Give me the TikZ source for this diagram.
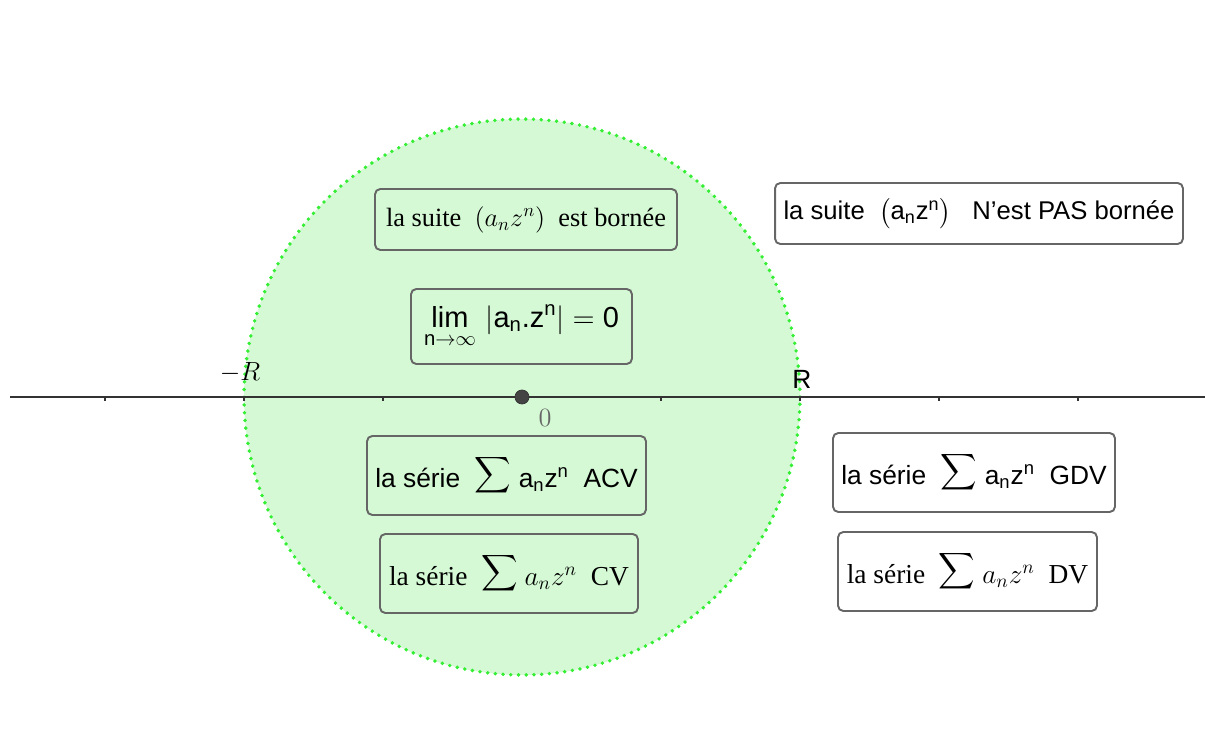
\RequirePackage{fix-cm}
\documentclass[tikz,border=0pt]{standalone}
\usepackage{amsmath}
\usepackage{fontspec}
\setmainfont{Liberation Serif}
\setsansfont{Liberation Sans}
\usepackage{tikz}
\usepackage{xcolor}
\definecolor{boxgray}{HTML}{666666}
\definecolor{diskfill}{HTML}{D5F9D5}
\definecolor{diskedge}{HTML}{33EE33}
\definecolor{axisgray}{HTML}{333333}
\definecolor{pointgray}{HTML}{444444}
\newcommand{\sn}[1]{\text{#1}}
\newcommand{\grandsum}{\raisebox{3pt}{$\displaystyle\sum$}}
\tikzset{
  cadre/.style={draw=boxgray, line width=1.1pt, rounded corners=3pt,
                align=center, inner sep=1.5pt},
  serifbox/.style={cadre, font=\fontsize{15}{18}\selectfont},
  sansbox/.style={cadre, font=\sffamily\fontsize{15}{18}\selectfont},
  axtick/.style={draw=axisgray, line width=0.7pt},
}

\begin{document}
\begin{tikzpicture}[x=0.02cm, y=-0.02cm]
  \useasboundingbox (0,0) rectangle (1205,753);
  % disque de convergence
  \fill[diskfill] (522,397) circle[radius=5.56cm];
  \draw[diskedge, line width=2.2pt, line cap=round, dash pattern=on 0pt off 4.4pt]
    (522,397) circle[radius=5.56cm];
  % axe reel
  \coordinate (gauche) at (10,397);
  \coordinate (droite) at (1205,397);
  \draw[axisgray, line width=0.7pt] (gauche) -- (droite);
  \foreach \x in {105,244,383,661,800,939,1078}
    \draw[axtick] (\x,397) -- ++(0,4);
  \node (orig) [circle, fill=pointgray, draw=axisgray, inner sep=0pt,
                minimum size=0.28cm] at (522,397) {};
  \node (zero) [text=boxgray, font=\fontsize{15}{18}\selectfont] at (545,418) {$0$};
  \node (moinsR) [font=\fontsize{15}{18}\selectfont] at (240,373) {$-R$};
  \node (plusR) [font=\sffamily\fontsize{15}{18}\selectfont] at (802,379) {R};
  % cadres
  \node (suiteB) [serifbox, minimum width=6.04cm, minimum height=1.22cm] at (526,219.5)
    {la suite \ $(a_nz^n)$ \ est bornée};
  \node (suiteNB) [sansbox, font=\sffamily\fontsize{14.6}{17}\selectfont,
                   minimum width=8.16cm, minimum height=1.22cm] at (979,213.5)
    {la suite \ $\bigl(\sn{a}_{\sn{n}}\sn{z}^{\sn{n}}\bigr)$ \ \ N'est PAS bornée};
  \node (limite) [sansbox, font=\sffamily\fontsize{16.5}{19}\selectfont,
                  minimum width=4.42cm, minimum height=1.5cm] at (521.5,326.5)
    {$\displaystyle\mathop{\sn{lim}}\limits_{\sn{n}\to\infty}\,
      |\sn{a}_{\sn{n}}\sn{.z}^{\sn{n}}| = \sn{0}$};
  \node (acv) [sansbox, minimum width=5.58cm, minimum height=1.58cm] at (506.5,475.5)
    {la série \ \grandsum\ $\sn{a}_{\sn{n}}\sn{z}^{\sn{n}}$ \ ACV};
  \node (gdv) [sansbox, minimum width=5.64cm, minimum height=1.58cm] at (974,472.5)
    {la série \ \grandsum\ $\sn{a}_{\sn{n}}\sn{z}^{\sn{n}}$ \ GDV};
  \node (cv) [serifbox, font=\fontsize{15.6}{19}\selectfont,
              minimum width=5.16cm, minimum height=1.58cm] at (509,573.5)
    {la série \ \grandsum\ $a_nz^n$ \ CV};
  \node (dv) [serifbox, font=\fontsize{15.6}{19}\selectfont,
              minimum width=5.18cm, minimum height=1.58cm] at (967.5,571.5)
    {la série \ \grandsum\ $a_nz^n$ \ DV};
\end{tikzpicture}
\end{document}
